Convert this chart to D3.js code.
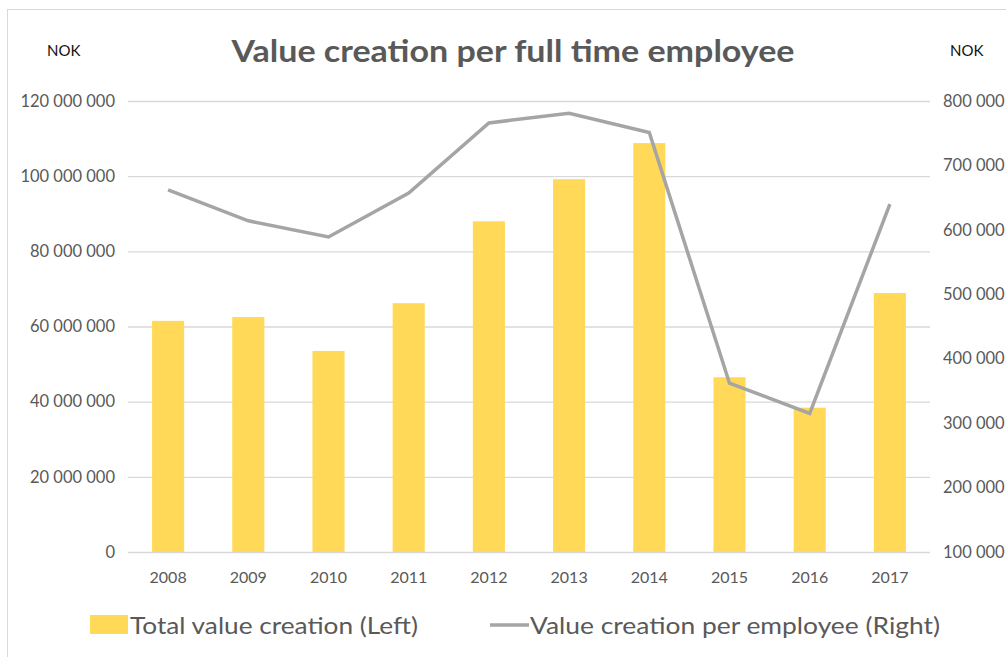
<!DOCTYPE html>
<html><head><meta charset="utf-8">
<script src="https://cdn.jsdelivr.net/npm/d3@7"></script>
<style>body{margin:0;background:#fff}svg{display:block}text{font-family:Lato,"Open Sans",sans-serif}</style>
</head><body><svg id="c" width="1006" height="657"></svg>
<script>
const years = ["2008","2009","2010","2011","2012","2013","2014","2015","2016","2017"];
const totalValue = [61.5e6,62.5e6,53.5e6,66.2e6,88e6,99.2e6,108.8e6,46.5e6,38.4e6,68.9e6];
const perEmployee = [662000,614000,589000,657000,766000,781000,751000,362000,315000,640000];
const leftTicks = [0,20e6,40e6,60e6,80e6,100e6,120e6];
const rightTicks = [100000,200000,300000,400000,500000,600000,700000,800000];
const seriesNames = ["Total value creation (Left)","Value creation per employee (Right)"];

const svg = d3.select("#c");
const x0=128,x1=930,yTop=101,yBot=552;
const fmt = v => d3.format(",")(v).replace(/,/g," ");
const FF = "Lato,'Open Sans',sans-serif";

svg.append("rect").attr("x",7.5).attr("y",9.5).attr("width",1010).attr("height",660)
  .attr("fill","#fff").attr("stroke","#d9d9d9");

const x = d3.scaleBand().domain(years).range([x0,x1]).paddingInner(0.6).paddingOuter(0.3);
const yL = d3.scaleLinear().domain([0,120e6]).range([yBot,yTop]);
const yR = d3.scaleLinear().domain([100000,800000]).range([yBot,yTop]);

// gridlines
svg.append("g").selectAll("line").data(leftTicks).join("line")
  .attr("x1",x0).attr("x2",x1).attr("y1",d=>yL(d)+0.5).attr("y2",d=>yL(d)+0.5)
  .attr("stroke","#d9d9d9").attr("stroke-width",1.3);

// left axis labels
const la = svg.append("g").attr("transform",`translate(${x0-13},0)`)
  .call(d3.axisLeft(yL).tickValues(leftTicks).tickFormat(fmt).tickSize(0).tickPadding(0));
la.select(".domain").remove();
la.selectAll("text").attr("font-size",16.5).attr("fill","#595959").attr("font-family",FF);

// right axis labels
const ra = svg.append("g").attr("transform",`translate(${x1+13},0)`)
  .call(d3.axisRight(yR).tickValues(rightTicks).tickFormat(fmt).tickSize(0).tickPadding(0));
ra.select(".domain").remove();
ra.selectAll("text").attr("font-size",16.5).attr("fill","#595959").attr("font-family",FF);

// x axis labels
const xa = svg.append("g").attr("transform",`translate(0,${yBot+20})`)
  .call(d3.axisBottom(x).tickSize(0).tickPadding(0));
xa.select(".domain").remove();
xa.selectAll("text").attr("font-size",16).attr("fill","#595959").attr("font-family",FF);

// bars
svg.append("g").selectAll("rect").data(years).join("rect")
  .attr("x",d=>x(d)).attr("width",x.bandwidth())
  .attr("y",(d,i)=>yL(totalValue[i])).attr("height",(d,i)=>yBot-yL(totalValue[i]))
  .attr("fill","#ffd957");

// line
const line = d3.line().x((d,i)=>x(years[i])+x.bandwidth()/2).y(d=>yR(d));
svg.append("path").datum(perEmployee).attr("d",line).attr("fill","none")
  .attr("stroke","#a5a5a5").attr("stroke-width",3.5).attr("stroke-linejoin","miter");

// title
svg.append("text").attr("x",513).attr("y",62).attr("text-anchor","middle")
  .attr("font-size",31).attr("font-weight","bold").attr("fill","#595959")
  .attr("textLength",563).attr("lengthAdjust","spacingAndGlyphs")
  .text("Value creation per full time employee");

// NOK labels
svg.append("text").attr("x",47).attr("y",56).attr("font-size",15).attr("fill","#111").text("NOK");
svg.append("text").attr("x",950).attr("y",56).attr("font-size",15).attr("fill","#111").text("NOK");

// legend
svg.append("rect").attr("x",90).attr("y",615).attr("width",38).attr("height",19).attr("fill","#ffd957");
svg.append("text").attr("x",130).attr("y",634).attr("font-size",23).attr("fill","#595959")
  .attr("textLength",288).attr("lengthAdjust","spacingAndGlyphs").text(seriesNames[0]);
svg.append("line").attr("x1",490).attr("x2",529).attr("y1",625).attr("y2",625)
  .attr("stroke","#a5a5a5").attr("stroke-width",3.5);
svg.append("text").attr("x",530).attr("y",634).attr("font-size",23).attr("fill","#595959")
  .attr("textLength",410).attr("lengthAdjust","spacingAndGlyphs").text(seriesNames[1]);
</script></body></html>
